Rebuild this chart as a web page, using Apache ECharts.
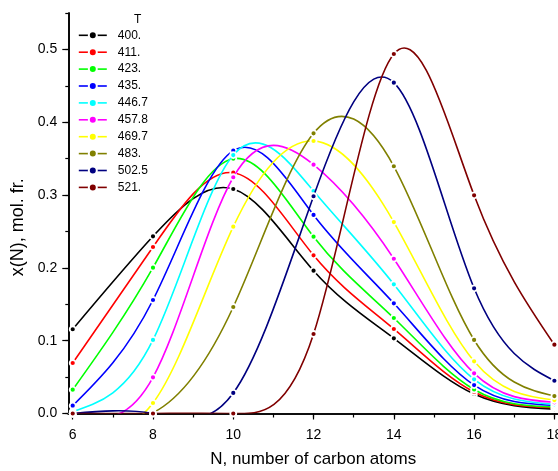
<!DOCTYPE html>
<html>
<head>
<meta charset="utf-8">
<script src="https://cdn.jsdelivr.net/npm/echarts@6/dist/echarts.min.js"></script>
<style>
html,body{margin:0;padding:0;background:#fff;}
#chart{width:558px;height:471px;}
</style>
</head>
<body>
<div id="chart"></div>
<script>
// Carbon number N
const N = [6, 8, 10, 12, 14, 16, 18];
// Temperatures (legend labels)
const T = ['400.', '411.', '423.', '435.', '446.7', '457.8', '469.7', '483.', '502.5', '521.'];
const colors = ['#000000', '#FF0000', '#00FF00', '#0000FF', '#00FFFF', '#FF00FF', '#FFFF00', '#808000', '#000080', '#800000'];

// x(N), mol. fr. for each temperature
const x400   = [0.1157, 0.2434, 0.3084, 0.1962, 0.1033, 0.0268, 0.0060];
const x411   = [0.0694, 0.2287, 0.3308, 0.2173, 0.1161, 0.0295, 0.0080];
const x423   = [0.0327, 0.2003, 0.3500, 0.2429, 0.1312, 0.0330, 0.0090];
const x435   = [0.0107, 0.1559, 0.3610, 0.2727, 0.1514, 0.0390, 0.0110];
const x446_7 = [0.0025, 0.1010, 0.3550, 0.3056, 0.1775, 0.0470, 0.0126];
const x457_8 = [0.0005, 0.0497, 0.3245, 0.3418, 0.2126, 0.0552, 0.0154];
const x469_7 = [0.0000, 0.0144, 0.2566, 0.3743, 0.2630, 0.0717, 0.0185];
const x483   = [0.0000, 0.0010, 0.1463, 0.3849, 0.3396, 0.1010, 0.0240];
const x502_5 = [0.0000, 0.0000, 0.0282, 0.2984, 0.4544, 0.1720, 0.0450];
const x521   = [0.0000, 0.0000, 0.0000, 0.1092, 0.4938, 0.2997, 0.0945];

const seriesValues = [x400, x411, x423, x435, x446_7, x457_8, x469_7, x483, x502_5, x521];

// Tick values
const xMinorTicks = [6, 7, 8, 9, 10, 11, 12, 13, 14, 15, 16, 17, 18];
const xMajorTicks = [6, 8, 10, 12, 14, 16, 18];
const yMajorTicks = [0, 0.1, 0.2, 0.3, 0.4, 0.5];

const FONT = 'Liberation Sans, Arial, sans-serif';

// Natural cubic spline slopes (data space) -> used as Bezier control points of the curve
function splineSlopes(xs, ys) {
  const n = xs.length;
  const h = [];
  for (let i = 0; i < n - 1; i++) h.push(xs[i + 1] - xs[i]);
  const a = new Array(n).fill(0), b = new Array(n).fill(0), c = new Array(n).fill(0), d = new Array(n).fill(0);
  b[0] = 1; b[n - 1] = 1;
  for (let i = 1; i < n - 1; i++) {
    a[i] = h[i - 1];
    b[i] = 2 * (h[i - 1] + h[i]);
    c[i] = h[i];
    d[i] = 6 * ((ys[i + 1] - ys[i]) / h[i] - (ys[i] - ys[i - 1]) / h[i - 1]);
  }
  const cp = new Array(n).fill(0), dp = new Array(n).fill(0);
  cp[0] = c[0] / b[0]; dp[0] = d[0] / b[0];
  for (let i = 1; i < n; i++) {
    const m = b[i] - a[i] * cp[i - 1];
    cp[i] = c[i] / m;
    dp[i] = (d[i] - a[i] * dp[i - 1]) / m;
  }
  const M = new Array(n).fill(0);
  M[n - 1] = dp[n - 1];
  for (let i = n - 2; i >= 0; i--) M[i] = dp[i] - cp[i] * M[i + 1];
  const segs = [];
  for (let i = 0; i < n - 1; i++) {
    const s = (ys[i + 1] - ys[i]) / h[i];
    segs.push({
      d0: s - h[i] * (2 * M[i] + M[i + 1]) / 6,
      d1: s + h[i] * (M[i] + 2 * M[i + 1]) / 6,
      h: h[i]
    });
  }
  return segs;
}

const series = [];
seriesValues.forEach((vals, i) => {
  const segs = splineSlopes(N, vals);
  // Smooth spline curve drawn through the axis scales
  series.push({
    name: T[i] + ' curve',
    type: 'custom',
    clip: true,
    silent: true,
    z: 2 + 2 * i,
    data: [[N[0], vals[0]]],
    renderItem: function (params, api) {
      const p0 = api.coord([N[0], vals[0]]);
      let path = 'M' + p0[0] + ' ' + p0[1];
      for (let k = 0; k < segs.length; k++) {
        const sg = segs[k];
        const h3 = sg.h / 3;
        const c1 = api.coord([N[k] + h3, vals[k] + h3 * sg.d0]);
        const c2 = api.coord([N[k + 1] - h3, vals[k + 1] - h3 * sg.d1]);
        const p1 = api.coord([N[k + 1], vals[k + 1]]);
        path += ' C' + c1[0] + ' ' + c1[1] + ' ' + c2[0] + ' ' + c2[1] + ' ' + p1[0] + ' ' + p1[1];
      }
      return {
        type: 'path',
        shape: { pathData: path },
        style: { fill: 'none', stroke: colors[i], lineWidth: 1.6 }
      };
    }
  });
  // Data points (markers) + legend entry
  series.push({
    name: T[i],
    type: 'line',
    data: N.map((n, j) => [n, vals[j]]),
    symbol: 'circle',
    symbolSize: 6,
    showSymbol: true,
    clip: false,
    lineStyle: { color: colors[i], width: 1.6, opacity: 0 },
    itemStyle: { color: colors[i], borderColor: '#ffffff', borderWidth: 1.8 },
    emphasis: { disabled: true },
    z: 3 + 2 * i
  });
});

const chart = echarts.init(document.getElementById('chart'), null, { renderer: 'canvas' });
chart.setOption({
  animation: false,
  backgroundColor: '#ffffff',
  textStyle: { fontFamily: FONT },
  title: {
    text: 'T',
    left: 129,
    top: 9,
    textStyle: { fontSize: 12, fontWeight: 'normal', color: '#000', fontFamily: FONT }
  },
  legend: {
    orient: 'vertical',
    left: 73,
    top: 24.3,
    itemWidth: 28,
    itemHeight: 10,
    itemGap: 4.9,
    lineStyle: { opacity: 1, width: 1.6 },
    textStyle: { fontSize: 12, color: '#000', fontFamily: FONT, padding: [0, 0, 0, 6] },
    data: T
  },
  grid: { left: 68.3, right: 0, top: 13.1, bottom: 57.5, containLabel: false, outerBoundsMode: 'none' },
  xAxis: [{
    type: 'value',
    min: 5.89,
    max: 18.09,
    position: 'bottom',
    axisLine: { show: true, onZero: false, lineStyle: { color: '#000', width: 1.6 } },
    axisTick: { show: true, inside: false, length: 4, customValues: xMinorTicks, lineStyle: { color: '#000', width: 1.2 } },
    axisLabel: { show: false },
    splitLine: { show: false }
  }, {
    type: 'value',
    min: 5.89,
    max: 18.09,
    position: 'bottom',
    offset: 0,
    name: 'N, number of carbon atoms',
    nameLocation: 'middle',
    nameGap: 37.5,
    nameTextStyle: { fontSize: 17, color: '#000', fontFamily: FONT },
    axisLine: { show: true, onZero: false, lineStyle: { color: '#000', width: 1.6 } },
    axisTick: { show: true, inside: false, length: 6, customValues: xMajorTicks, lineStyle: { color: '#000', width: 1.2 } },
    axisLabel: { customValues: xMajorTicks, fontSize: 14, color: '#000', margin: 14.5, fontFamily: FONT },
    splitLine: { show: false }
  }],
  yAxis: [{
    type: 'value',
    min: 0,
    max: 0.55,
    interval: 0.05,
    position: 'left',
    axisLine: { show: true, lineStyle: { color: '#000', width: 1.6 } },
    axisTick: { show: true, inside: false, length: 3, lineStyle: { color: '#000', width: 1.2 } },
    axisLabel: { show: false },
    splitLine: { show: false }
  }, {
    type: 'value',
    min: 0,
    max: 0.55,
    interval: 0.05,
    position: 'left',
    offset: 0,
    name: 'x(N), mol. fr.',
    nameLocation: 'middle',
    nameGap: 36,
    nameTextStyle: { fontSize: 18, color: '#000', fontFamily: FONT, padding: [0, 28, 0, 0] },
    axisLine: { show: true, lineStyle: { color: '#000', width: 1.6 } },
    axisTick: { show: true, inside: false, length: 6, customValues: yMajorTicks, lineStyle: { color: '#000', width: 1.2 } },
    axisLabel: { customValues: yMajorTicks, fontSize: 14, color: '#000', margin: 11, fontFamily: FONT,
      formatter: function (v) { return v.toFixed(1); } },
    splitLine: { show: false }
  }],
  series: series
});
</script>
</body>
</html>
